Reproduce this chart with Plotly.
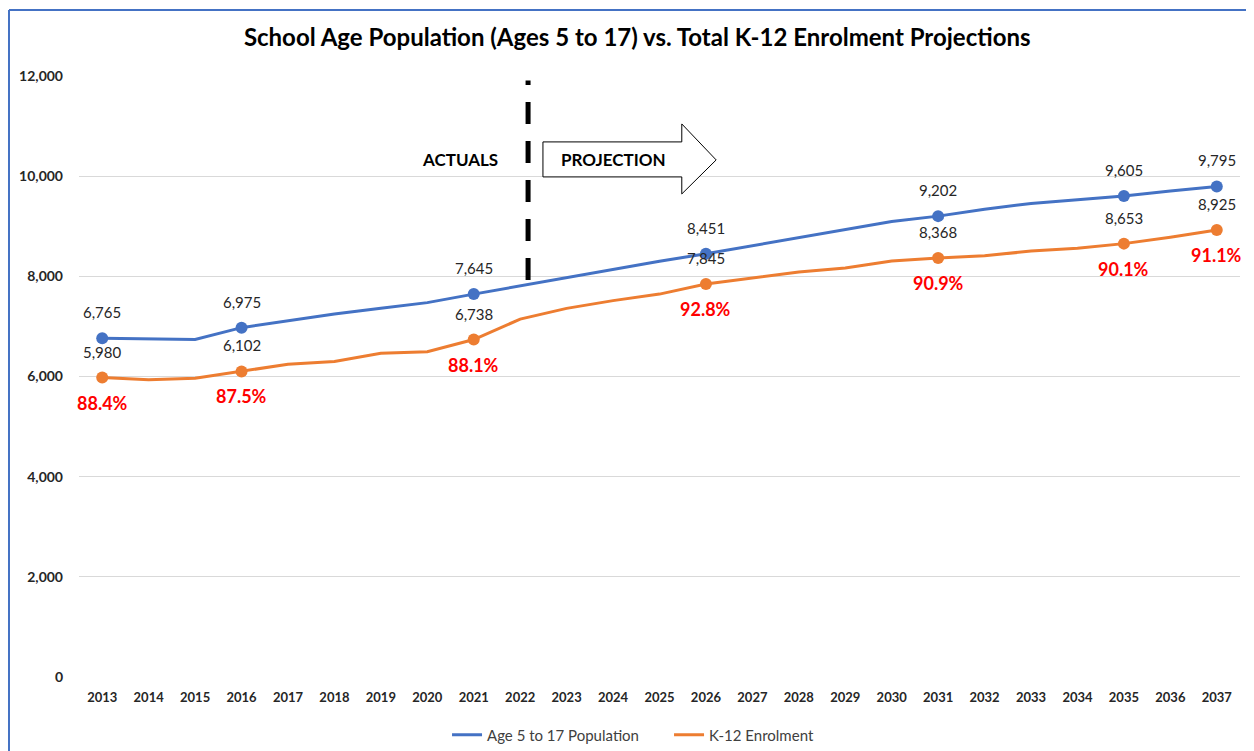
import plotly.graph_objects as go

years = list(range(2013, 2038))
population = [6765, 6760, 6740, 6975, 7110, 7250, 7365, 7475, 7645, 7810, 7970, 8130,
              8300, 8451, 8610, 8780, 8930, 9095, 9202, 9340, 9455, 9525, 9605, 9705, 9795]
enrolment = [5980, 5935, 5965, 6102, 6245, 6300, 6465, 6495, 6738, 7145, 7360, 7515,
             7645, 7845, 7965, 8085, 8165, 8305, 8368, 8410, 8505, 8560, 8653, 8780, 8925]
label_years = [2013, 2016, 2021, 2026, 2031, 2035, 2037]
y_ticks = [0, 2000, 4000, 6000, 8000, 10000, 12000]

title = "School Age Population (Ages 5 to 17) vs. Total K-12 Enrolment Projections"
pop_name = "Age 5 to 17 Population"
enr_name = "K-12 Enrolment"
divider_year = 2022.17
actuals_text = "ACTUALS"
projection_text = "PROJECTION"

BLUE = "#4472C4"
ORANGE = "#ED7D31"
FONT = "Lato"

idx = [years.index(y) for y in label_years]
lab_pop = [population[i] for i in idx]
lab_enr = [enrolment[i] for i in idx]

fig = go.Figure()
fig.add_trace(go.Scatter(x=years, y=population, mode="lines", name=pop_name,
                         line=dict(color=BLUE, width=3)))
fig.add_trace(go.Scatter(x=years, y=enrolment, mode="lines", name=enr_name,
                         line=dict(color=ORANGE, width=3)))
fig.add_trace(go.Scatter(x=label_years, y=lab_pop, mode="markers", showlegend=False,
                         marker=dict(color=BLUE, size=12), hoverinfo="skip"))
fig.add_trace(go.Scatter(x=label_years, y=lab_enr, mode="markers", showlegend=False,
                         marker=dict(color=ORANGE, size=12), hoverinfo="skip"))

annotations = []
for yr, p, e in zip(label_years, lab_pop, lab_enr):
    annotations.append(dict(x=yr, y=p, text=f"{p:,}", showarrow=False, yshift=26,
                            font=dict(family=FONT, size=15, color="#262626")))
    annotations.append(dict(x=yr, y=e, text=f"{e:,}", showarrow=False, yshift=26,
                            font=dict(family=FONT, size=15, color="#262626")))
    annotations.append(dict(x=yr, y=e, text=f"{e / p * 100:.1f}%", showarrow=False, yshift=-25,
                            font=dict(family=FONT, size=18, color="#FF0000", weight="bold")))

annotations.append(dict(x=2020.7, y=10324, text=actuals_text, showarrow=False,
                        font=dict(family=FONT, size=17, color="#000000", weight="bold")))
annotations.append(dict(x=2024.0, y=10324, text=projection_text, showarrow=False,
                        font=dict(family=FONT, size=17, color="#000000", weight="bold")))

shapes = [
    dict(type="line", x0=divider_year, x1=divider_year, y0=7928, y1=11908, xref="x", yref="y",
         line=dict(color="black", width=5, dash="22px,17px")),
    dict(type="path", xref="x", yref="y",
         path="M 2022.49,10684 L 2025.48,10684 L 2025.48,11043 L 2026.22,10324 "
              "L 2025.48,9645 L 2025.48,9985 L 2022.49,9985 Z",
         line=dict(color="black", width=1), fillcolor="white", layer="above"),
    # chart frame (top and left edges visible)
    dict(type="line", xref="paper", yref="paper", x0=-0.0603, x1=1.3, y0=1.1098, y1=1.1098,
         line=dict(color=BLUE, width=2)),
    dict(type="line", xref="paper", yref="paper", x0=-0.0603, x1=-0.0603, y0=-0.4, y1=1.1098,
         line=dict(color=BLUE, width=2)),
]

fig.update_layout(
    width=1246, height=743,
    paper_bgcolor="white", plot_bgcolor="white",
    margin=dict(l=71, r=14, t=68, b=74),
    title=dict(text=title, x=0.505, xanchor="center", y=0.9596, yanchor="middle",
               font=dict(family=FONT, size=24, color="#000000", weight="bold")),
    xaxis=dict(range=[2012.5, 2037.5], tickmode="array", tickvals=years,
               ticktext=[str(y) for y in years], showgrid=False, zeroline=False,
               showline=False, ticks="", automargin=False, ticklabelstandoff=11,
               tickfont=dict(family=FONT, size=13, color="#262626", weight="bold")),
    yaxis=dict(range=[0, 12000], tickmode="array", tickvals=y_ticks,
               ticktext=[f"{v:,}" for v in y_ticks], showgrid=True, gridcolor="#D9D9D9",
               gridwidth=1, zeroline=False, showline=False, ticks="", ticklabelstandoff=15,
               automargin=False,
               tickfont=dict(family=FONT, size=14, color="#262626", weight="bold")),
    legend=dict(orientation="h", x=0.317, xanchor="left", xref="paper",
                y=0.0215, yanchor="middle", yref="container",
                font=dict(family=FONT, size=15, color="#404040"), traceorder="normal",
                entrywidth=177, entrywidthmode="pixels"),
    annotations=annotations,
    shapes=shapes,
    hovermode=False,
)

fig.write_html("out.html")
